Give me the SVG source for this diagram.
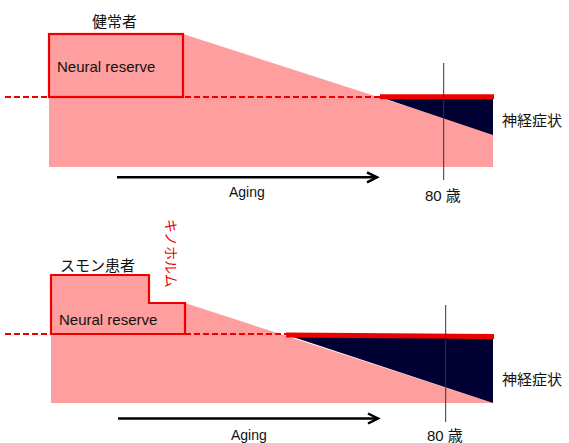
<svg xmlns="http://www.w3.org/2000/svg" width="569" height="443" viewBox="0 0 569 443">
  <style>
    .pink { fill: #FF9E9E; stroke: none; }
    .dark { fill: #000033; stroke: none; }
    .box { fill: none; stroke: #EE0000; stroke-width: 2.2; stroke-linejoin: miter; }
    .dash { stroke: #EE0000; stroke-width: 2; stroke-dasharray: 6 3; fill: none; }
    .thick { stroke: #EE0000; stroke-width: 5; fill: none; }
    .vline { stroke: #333344; stroke-width: 1; }
    .arrow { stroke: #000000; stroke-width: 2.5; fill: none; }
    .head { stroke: #000000; stroke-width: 2.5; fill: none; stroke-linejoin: miter; }
    .jp { font-family: "Noto Sans CJK JP", sans-serif; font-size: 15px; fill: #111111; }
    .lat { font-family: "Liberation Sans", "Noto Sans CJK JP", sans-serif; fill: #111111; }
  </style>

  <!-- Top panel: healthy -->
  <g id="healthy-area">
    <polygon class="pink" points="49,34 183,34 493,134 493,167 49,167"/>
    <polygon class="dark" points="380,97 493,97 493,135"/>
  </g>
  <g id="healthy-threshold">
    <line class="dash" x1="5" y1="97" x2="380" y2="97"/>
    <line class="thick" x1="380" y1="96.8" x2="494" y2="96.8"/>
  </g>
  <g id="healthy-reserve">
    <rect class="box" x="49" y="34" width="134" height="63"/>
    <text class="lat" x="57" y="72" font-size="15">Neural reserve</text>
  </g>
  <g id="healthy-label">
    <text class="jp" x="92" y="27">健常者</text>
  </g>
  <g id="healthy-symptom">
    <text class="jp" x="502" y="126">神経症状</text>
  </g>
  <g id="healthy-age">
    <line class="vline" x1="443.7" y1="63" x2="443.7" y2="180"/>
    <text class="lat" x="425" y="201" font-size="15">80 歳</text>
  </g>

  <!-- Bottom panel: SMON patient -->
  <g id="smon-area">
    <polygon class="pink" points="51,275 149,275 149,303 185,303 493,403 51,403"/>
    <polygon class="dark" points="287,335 493,337 493,403"/>
  </g>
  <g id="smon-threshold">
    <line class="dash" x1="5" y1="334" x2="287" y2="334"/>
    <line class="thick" x1="286" y1="335" x2="494" y2="336.5"/>
  </g>
  <g id="smon-reserve">
    <polygon class="box" points="51,275 149,275 149,303 185,303 185,334 51,334"/>
    <text class="lat" x="59" y="325" font-size="15">Neural reserve</text>
  </g>
  <g id="smon-label">
    <text class="jp" x="60" y="271">スモン患者</text>
  </g>
  <g id="clioquinol">
    <text class="jp" x="0" y="0" font-size="14" fill="#EE0000" style="fill:#EE0000;font-size:14px" transform="translate(165.5,219) rotate(90)">キノホルム</text>
  </g>
  <g id="smon-symptom">
    <text class="jp" x="502" y="385">神経症状</text>
  </g>
  <g id="smon-age">
    <line class="vline" x1="445.7" y1="305" x2="445.7" y2="422"/>
    <text class="lat" x="427" y="441" font-size="15">80 歳</text>
  </g>

  <!-- Connectors: aging arrows -->
  <g id="connectors">
    <line class="arrow" x1="117" y1="177.3" x2="376" y2="177.3"/>
    <polyline class="head" points="367,172.3 377,177.3 367,182.3"/>
    <line class="arrow" x1="118" y1="418.5" x2="377" y2="418.5"/>
    <polyline class="head" points="368,413.5 378,418.5 368,423.5"/>
  </g>
  <g id="aging-top">
    <text class="lat" x="229" y="197" font-size="14">Aging</text>
  </g>
  <g id="aging-bottom">
    <text class="lat" x="231" y="440" font-size="14">Aging</text>
  </g>
</svg>
